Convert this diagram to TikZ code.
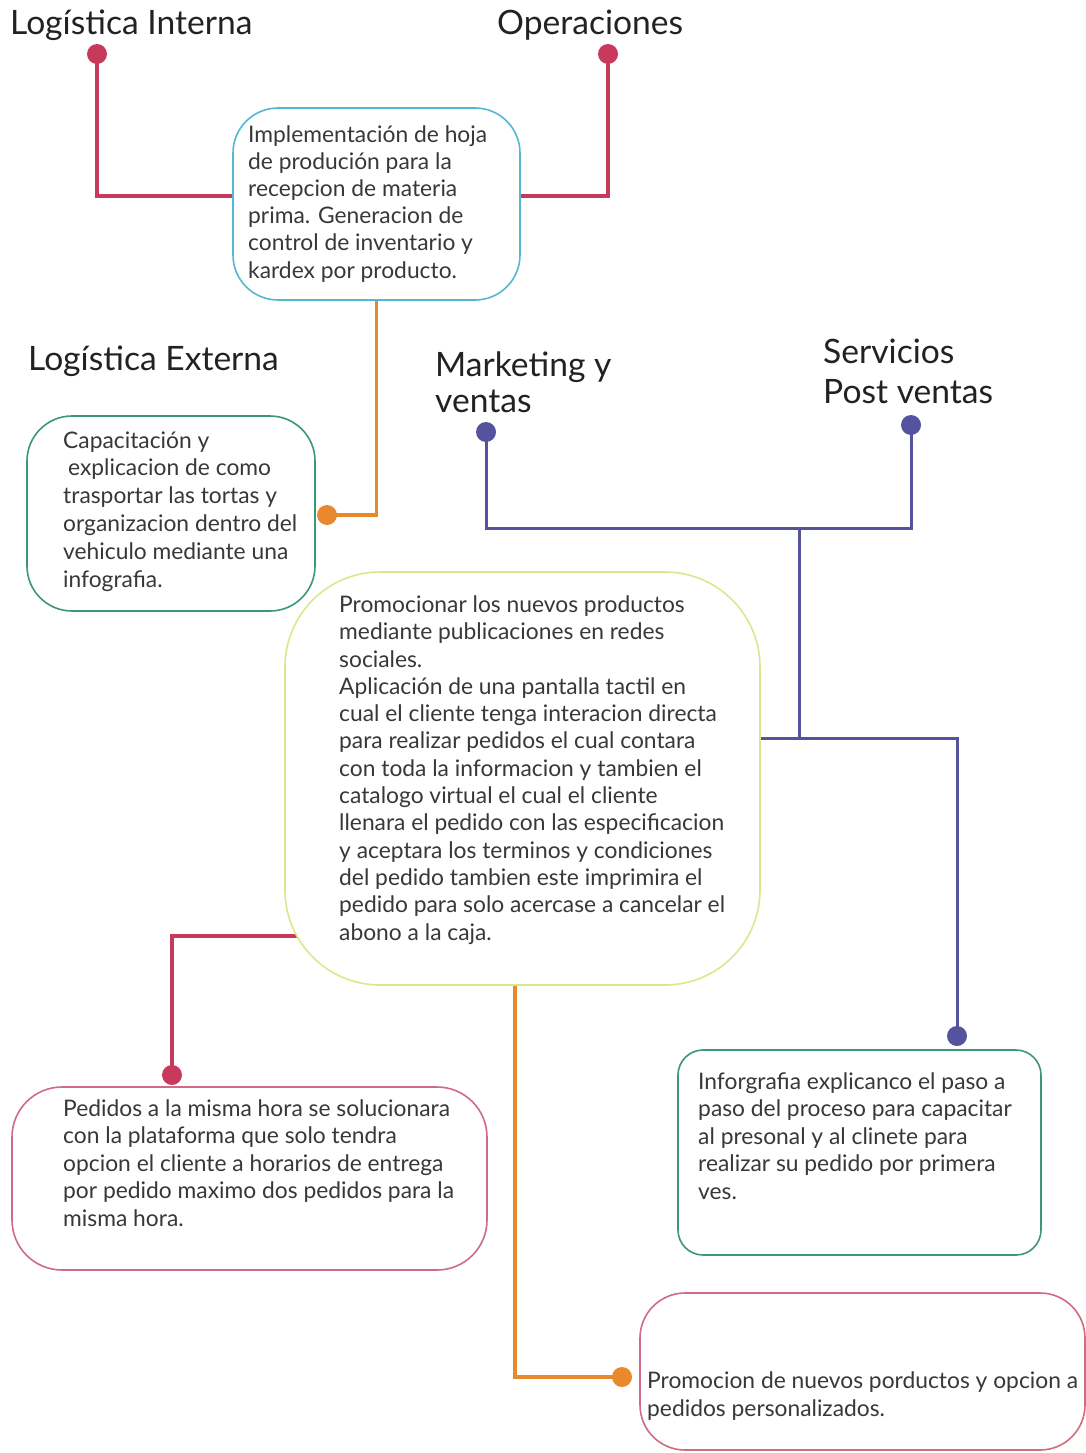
\documentclass[tikz,border=0pt]{standalone}
\usepackage{fontspec}
\setmainfont{Lato}
\usetikzlibrary{backgrounds}
\definecolor{redc}{HTML}{C83A5C}
\definecolor{orc}{HTML}{E8892E}
\definecolor{bluc}{HTML}{55529E}
\definecolor{cyanb}{HTML}{55B8D2}
\definecolor{greenb}{HTML}{3A9878}
\definecolor{yelb}{HTML}{DDE68C}
\definecolor{pinkb}{HTML}{CF6A88}
\definecolor{txt}{HTML}{383838}
\definecolor{hd}{HTML}{222222}
\begin{document}
\begin{tikzpicture}[x=1pt,y=-1pt,
  lnk/.style={line width=3.5pt},
  dotc/.style={circle,fill,inner sep=0,minimum size=20pt},
  card/.style={draw,rounded corners=#1,line width=1.6pt,fill=white,inner sep=0},
  body/.style={anchor=base west,align=left,inner sep=0,text=txt,font=\fontsize{22.8}{27.3}\selectfont},
  head/.style={anchor=base west,align=left,inner sep=0,text=hd,font=\fontsize{33.6}{36}\selectfont}]
\useasboundingbox (0,0) rectangle (1086,1453);

% headings (anchored at the baseline of their last line)
\node[head] (hLI) at (10,35) {Logística Interna};
\node[head] (hOP) at (497,35) {Operaciones};
\node[head] (hLE) at (28,370) {Logística Externa};
\node[head] (hMV) at (435,412) {Marketing y\\ventas};
\node[head,font=\fontsize{33.6}{40}\selectfont] (hSP) at (823,403) {Servicios\\Post ventas};

% boxes
\node[card=45pt,draw=cyanb,minimum width=287pt,minimum height=192pt] (ops) at (376.5,204) {};
\node[card=45pt,draw=greenb,minimum width=288pt,minimum height=195pt] (ext) at (171,513.5) {};
\node[card=95pt,draw=yelb,minimum width=475pt,minimum height=413pt] (mk) at (522.5,778.5) {};
\node[card=50pt,draw=pinkb,minimum width=475pt,minimum height=183pt] (pk1) at (249.5,1178.5) {};
\node[card=25pt,draw=greenb,minimum width=363pt,minimum height=205pt] (gr2) at (859.5,1152.5) {};
\node[card=45pt,draw=pinkb,minimum width=445pt,minimum height=157pt] (pk2) at (862.5,1371.5) {};

% box texts (anchored at the baseline of their last line)
\node[body,font=\fontsize{22.8}{27.2}\selectfont] (tops) at (248,278) {Implementación de hoja\\de produción para la\\recepcion de materia\\prima. Generacion de\\control de inventario y\\kardex por producto.};
\node[body,font=\fontsize{22.8}{27.8}\selectfont] (text) at (63,587) {Capacitación y\\\hspace*{5pt}explicacion de como\\trasportar las tortas y\\organizacion dentro del\\vehiculo mediante una\\infografia.};
\node[body] (tmk) at (339,940) {Promocionar los nuevos productos\\mediante publicaciones en redes\\sociales.\\Aplicación de una pantalla tactil en\\cual el cliente tenga interacion directa\\para realizar pedidos el cual contara\\con toda la informacion y tambien el\\catalogo virtual el cual el cliente\\llenara el pedido con las especificacion\\y aceptara los terminos y condiciones\\del pedido tambien este imprimira el\\pedido para solo acercase a cancelar el\\abono a la caja.};
\node[body,font=\fontsize{22.8}{27.5}\selectfont] (tpk1) at (63,1226) {Pedidos a la misma hora se solucionara\\con la plataforma que solo tendra\\opcion el cliente a horarios de entrega\\por pedido maximo dos pedidos para la\\misma hora.};
\node[body,font=\fontsize{22.8}{27.5}\selectfont] (tgr2) at (698,1199) {Inforgrafia explicanco el paso a\\paso del proceso para capacitar\\al presonal y al clinete para\\realizar su pedido por primera\\ves.};
\node[body,font=\fontsize{22.8}{28}\selectfont] (tpk2) at (647,1416) {Promocion de nuevos porductos y opcion a\\pedidos personalizados.};

% end dots
\node[dotc,redc] (dLI) at (97,54) {};
\node[dotc,redc] (dOP) at (608,54) {};
\node[dotc,orc] (dLE) at (327,515) {};
\node[dotc,bluc] (dMV) at (486,432) {};
\node[dotc,bluc] (dSP) at (911,425) {};
\node[dotc,bluc] (dPV) at (957,1036) {};
\node[dotc,redc] (dPK) at (172,1075) {};
\node[dotc,orc] (dPR) at (622,1377) {};

% bends
\coordinate (jLI) at (97,196);
\coordinate (jOP) at (608,196);
\coordinate (jMV) at (799,528);
\coordinate (jMK) at (799,738);
\coordinate (jPK) at (172,936);
\coordinate (jPR) at (515,1377);

\begin{pgfonlayer}{background}
\draw[lnk,redc] (dLI.center) -- (jLI) -- (jLI -| ops.center);
\draw[lnk,redc] (dOP.center) -- (jOP) -- (jOP -| ops.center);
\draw[lnk,orc] (ops.center) |- (dLE.center);
\draw[lnk,bluc,line width=3pt] (dMV.center) |- (jMV) -| (dSP.center);
\draw[lnk,bluc,line width=3pt] (jMV) -- (jMK);
\draw[lnk,bluc,line width=3pt] (jMK -| mk.center) -- (jMK) -| (dPV.center);
\draw[lnk,redc] (jPK -| mk.center) -- (jPK) -- (dPK.center);
\draw[lnk,orc] (jPR |- mk.center) -- (jPR) -- (dPR.center);
\end{pgfonlayer}
\end{tikzpicture}
\end{document}
